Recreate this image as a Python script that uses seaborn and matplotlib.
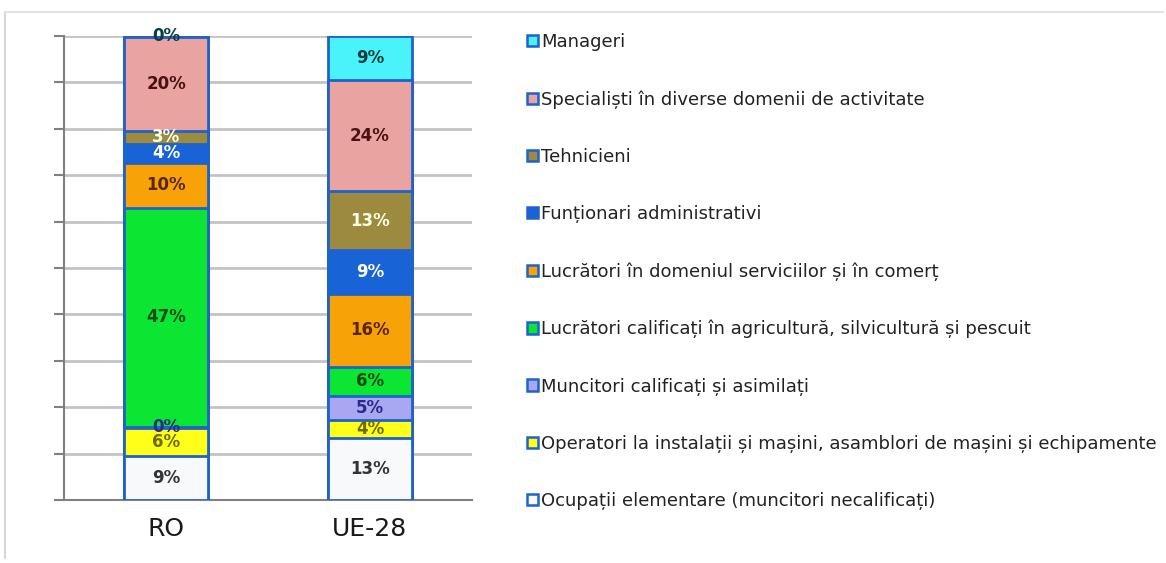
import numpy as np
import pandas as pd
import matplotlib
matplotlib.use("Agg")
import matplotlib.pyplot as plt
from matplotlib.patches import Patch
from matplotlib.lines import Line2D
import seaborn as sns

# Occupational structure of employment, RO vs EU-28 (share, %)
regions = ["RO", "UE-28"]

# from the bottom of the stack to the top
occupations = [
    "Ocupații elementare (muncitori necalificați)",
    "Operatori la instalații și mașini, asamblori de mașini și echipamente",
    "Muncitori calificați și asimilați",
    "Lucrători calificați în agricultură, silvicultură și pescuit",
    "Lucrători în domeniul serviciilor și în comerț",
    "Funționari administrativi",
    "Tehnicieni",
    "Specialiști în diverse domenii de activitate",
    "Manageri",
]
ro_values = [9.4, 6.2, 0.2, 47.2, 9.6, 4.2, 2.8, 20.2, 0.2]
ue_values = [13.4, 3.8, 5.2, 6.3, 15.8, 9.4, 12.6, 24.1, 9.4]

colors = ["#F7F9FB", "#FFFF1A", "#A9A7F2", "#0AE632", "#F7A308",
          "#1863D6", "#9C8A3E", "#E9A3A0", "#4AF2FA"]
label_colors = ["#333333", "#6B6B00", "#2A2A8A", "#0B4A14", "#5A2500",
                "#FFFFFF", "#FFFFE6", "#4A1212", "#0A3E3E"]
edge = "#1F62CC"

df = pd.DataFrame({"RO": ro_values, "UE-28": ue_values}, index=occupations)
cum = df.cumsum()

sns.set_style("white")
plt.rcParams["font.family"] = ["DejaVu Sans"]

fig = plt.figure(figsize=(11.66, 5.63), dpi=100)
ax = fig.add_axes([64 / 1166, 1 - 500 / 563, 408 / 1166, 464 / 563])

# stacked bars: draw cumulative totals from the tallest down
for i in range(len(occupations) - 1, -1, -1):
    sns.barplot(x=regions, y=cum.iloc[i].values, color=colors[i], saturation=1,
                width=0.41, edgecolor=edge, linewidth=2, ax=ax, zorder=3)

for j, reg in enumerate(regions):
    for i, occ in enumerate(occupations):
        v = df.loc[occ, reg]
        ax.text(j, cum.loc[occ, reg] - v / 2, f"{v:.0f}%", ha="center", va="center",
                fontsize=12, fontweight="bold", color=label_colors[i], zorder=5)

ax.set_ylim(0, 100)
ax.set_xlim(-0.5, 1.5)
ax.set_yticks(np.arange(0, 101, 10))
ax.set_yticklabels([])
ax.set_xticks([-0.5, 0.5, 1.5], minor=True)
ax.tick_params(axis="x", which="major", length=0, labelsize=18, pad=12,
               labelcolor="#1A1A1A")
ax.tick_params(axis="x", which="minor", length=6, width=1.5, color="#808080")
ax.tick_params(axis="y", length=7, width=1.5, color="#808080", left=True)
ax.grid(axis="y", color="#C4C4C4", linewidth=2, zorder=0)
ax.set_axisbelow(True)
for side in ["top", "right"]:
    ax.spines[side].set_visible(False)
for side in ["left", "bottom"]:
    ax.spines[side].set_color("#808080")
    ax.spines[side].set_linewidth(1.5)

# legend, top entry first
handles = [Patch(facecolor=colors[i], edgecolor=edge, linewidth=1.8)
           for i in range(len(occupations) - 1, -1, -1)]
labels = occupations[::-1]
fig.legend(handles, labels, loc="upper left", bbox_to_anchor=(527 / 1166, 1 - 33 / 563),
           frameon=False, fontsize=13, handlelength=0.6, handleheight=0.6,
           handletextpad=0.2, labelspacing=2.17, labelcolor="#222222",
           borderaxespad=0, borderpad=0)

# faint frame around the chart
fig.add_artist(Line2D([5 / 1166, 5 / 1166], [1 - 12 / 563, 1 - 558 / 563],
                      transform=fig.transFigure, color="#D6D6D6", linewidth=1.5))
fig.add_artist(Line2D([5 / 1166, 1163 / 1166], [1 - 12 / 563, 1 - 12 / 563],
                      transform=fig.transFigure, color="#E3E3E3", linewidth=1.5))

fig.savefig("out.png", dpi=100, facecolor="white")
